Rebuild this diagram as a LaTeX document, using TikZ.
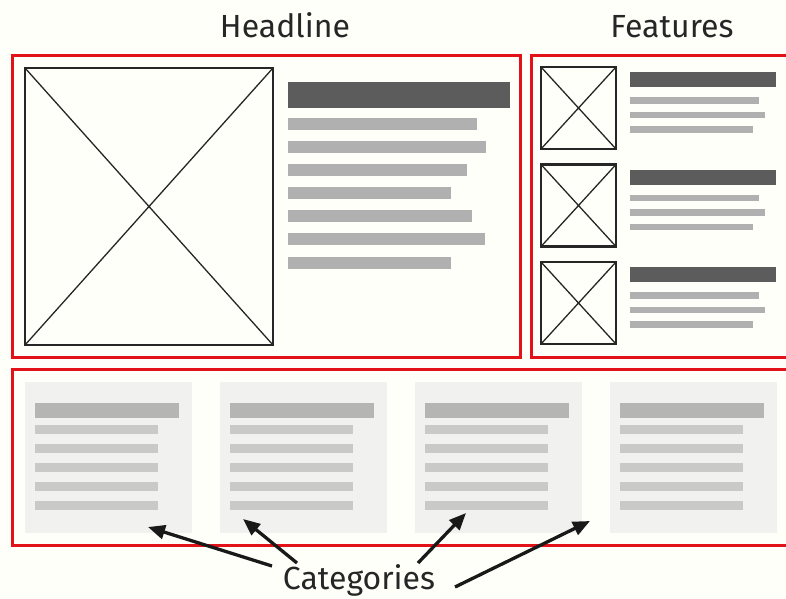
\documentclass[tikz,border=0pt]{standalone}
\usepackage{fontspec}
\setmainfont{Fira Sans}
\usetikzlibrary{arrows.meta}
\definecolor{boxred}{rgb}{0.890000,0.070000,0.100000}
\definecolor{bardark}{rgb}{0.360000,0.360000,0.360000}
\definecolor{bargrey}{rgb}{0.690000,0.690000,0.690000}
\definecolor{catfill}{rgb}{0.945000,0.945000,0.940000}
\definecolor{catbar}{rgb}{0.710000,0.710000,0.705000}
\definecolor{catline}{rgb}{0.790000,0.790000,0.785000}
\tikzset{
  redframe/.style={draw=boxred, line width=3pt},
  imgframe/.style={draw=black!85, line width=2.2pt},
  imgcross/.style={draw=black!85, line width=1.3pt},
  darkbar/.style={fill=bardark},
  greybar/.style={fill=bargrey},
  catpanel/.style={fill=catfill},
  catheadbar/.style={fill=catbar},
  catlinebar/.style={fill=catline},
  title/.style={font=\fontsize{32}{36}\selectfont, text=black!85, inner sep=0pt, anchor=base},
  pointer/.style={-{Triangle[length=17pt,width=14pt]}, line width=3.3pt, black!90}
}
\begin{document}
\begin{tikzpicture}[x=1pt,y=-1pt]
% \clip (0,0) rectangle (786,598);
\clip (0,0) rectangle (786,598);
\fill[white!98!yellow] (0,0) rectangle (786,598);

% Titles
\node[title] (headline) at (285,37) {Headline};
\node[title] (features) at (672,37) {Features};
\node[title] (cat) at (359,589) {Categories};

% Drawing frame headline
\draw[redframe] (12,55) rectangle (520,357);
% Drawing frame features
\draw[redframe] (531,55) rectangle (795,357);
% Drawing frame categories
\draw[redframe] (12,369) rectangle (795,545);

% Headline picture
\draw[imgframe] (25,68) rectangle (273,345);
\draw[imgcross] (25,68) -- (273,345) (25,345) -- (273,68);

% Headline text bars
\fill[darkbar] (288,82) rectangle (510,108);
\foreach \y/\e in {118/477, 141/486, 164/467, 187/451, 210/472, 233/485, 257/451}
  \fill[greybar] (288,\y) rectangle (\e,\y+12);

% Features, three rows
\foreach \k in {0,1,2}{
  \pgfmathsetmacro{\t}{67+97.5*\k}
  \draw[imgframe] (541,\t) rectangle (616,\t+82);
  \draw[imgcross] (541,\t) -- (616,\t+82) (541,\t+82) -- (616,\t);
  \fill[darkbar] (630,\t+5) rectangle (776,\t+20);
  \fill[greybar] (630,\t+30) rectangle (759,\t+36.5);
  \fill[greybar] (630,\t+44.5) rectangle (765,\t+51);
  \fill[greybar] (630,\t+59) rectangle (753,\t+65.5);
}

% Category panels
\foreach \x in {25,220,415,610}{
  \fill[catpanel] (\x,382) rectangle (\x+167,533);
  \fill[catheadbar] (\x+10,403) rectangle (\x+154,418);
  \foreach \j in {0,...,4}
    \fill[catlinebar] (\x+10,425+19*\j) rectangle (\x+133,434+19*\j);
}

% Pointers
\coordinate (p1) at (148,527);
\coordinate (p2) at (243,519);
\coordinate (p3) at (466,513);
\coordinate (p4) at (590,521);
\coordinate (s1) at (272,566);
\coordinate (s2) at (297,563);
\coordinate (s3) at (418,563);
\coordinate (s4) at (455,587);
\draw[pointer] (s1) -- (p1);
\draw[pointer] (s2) -- (p2);
\draw[pointer] (s3) -- (p3);
\draw[pointer] (s4) -- (p4);
\end{tikzpicture}
\end{document}
